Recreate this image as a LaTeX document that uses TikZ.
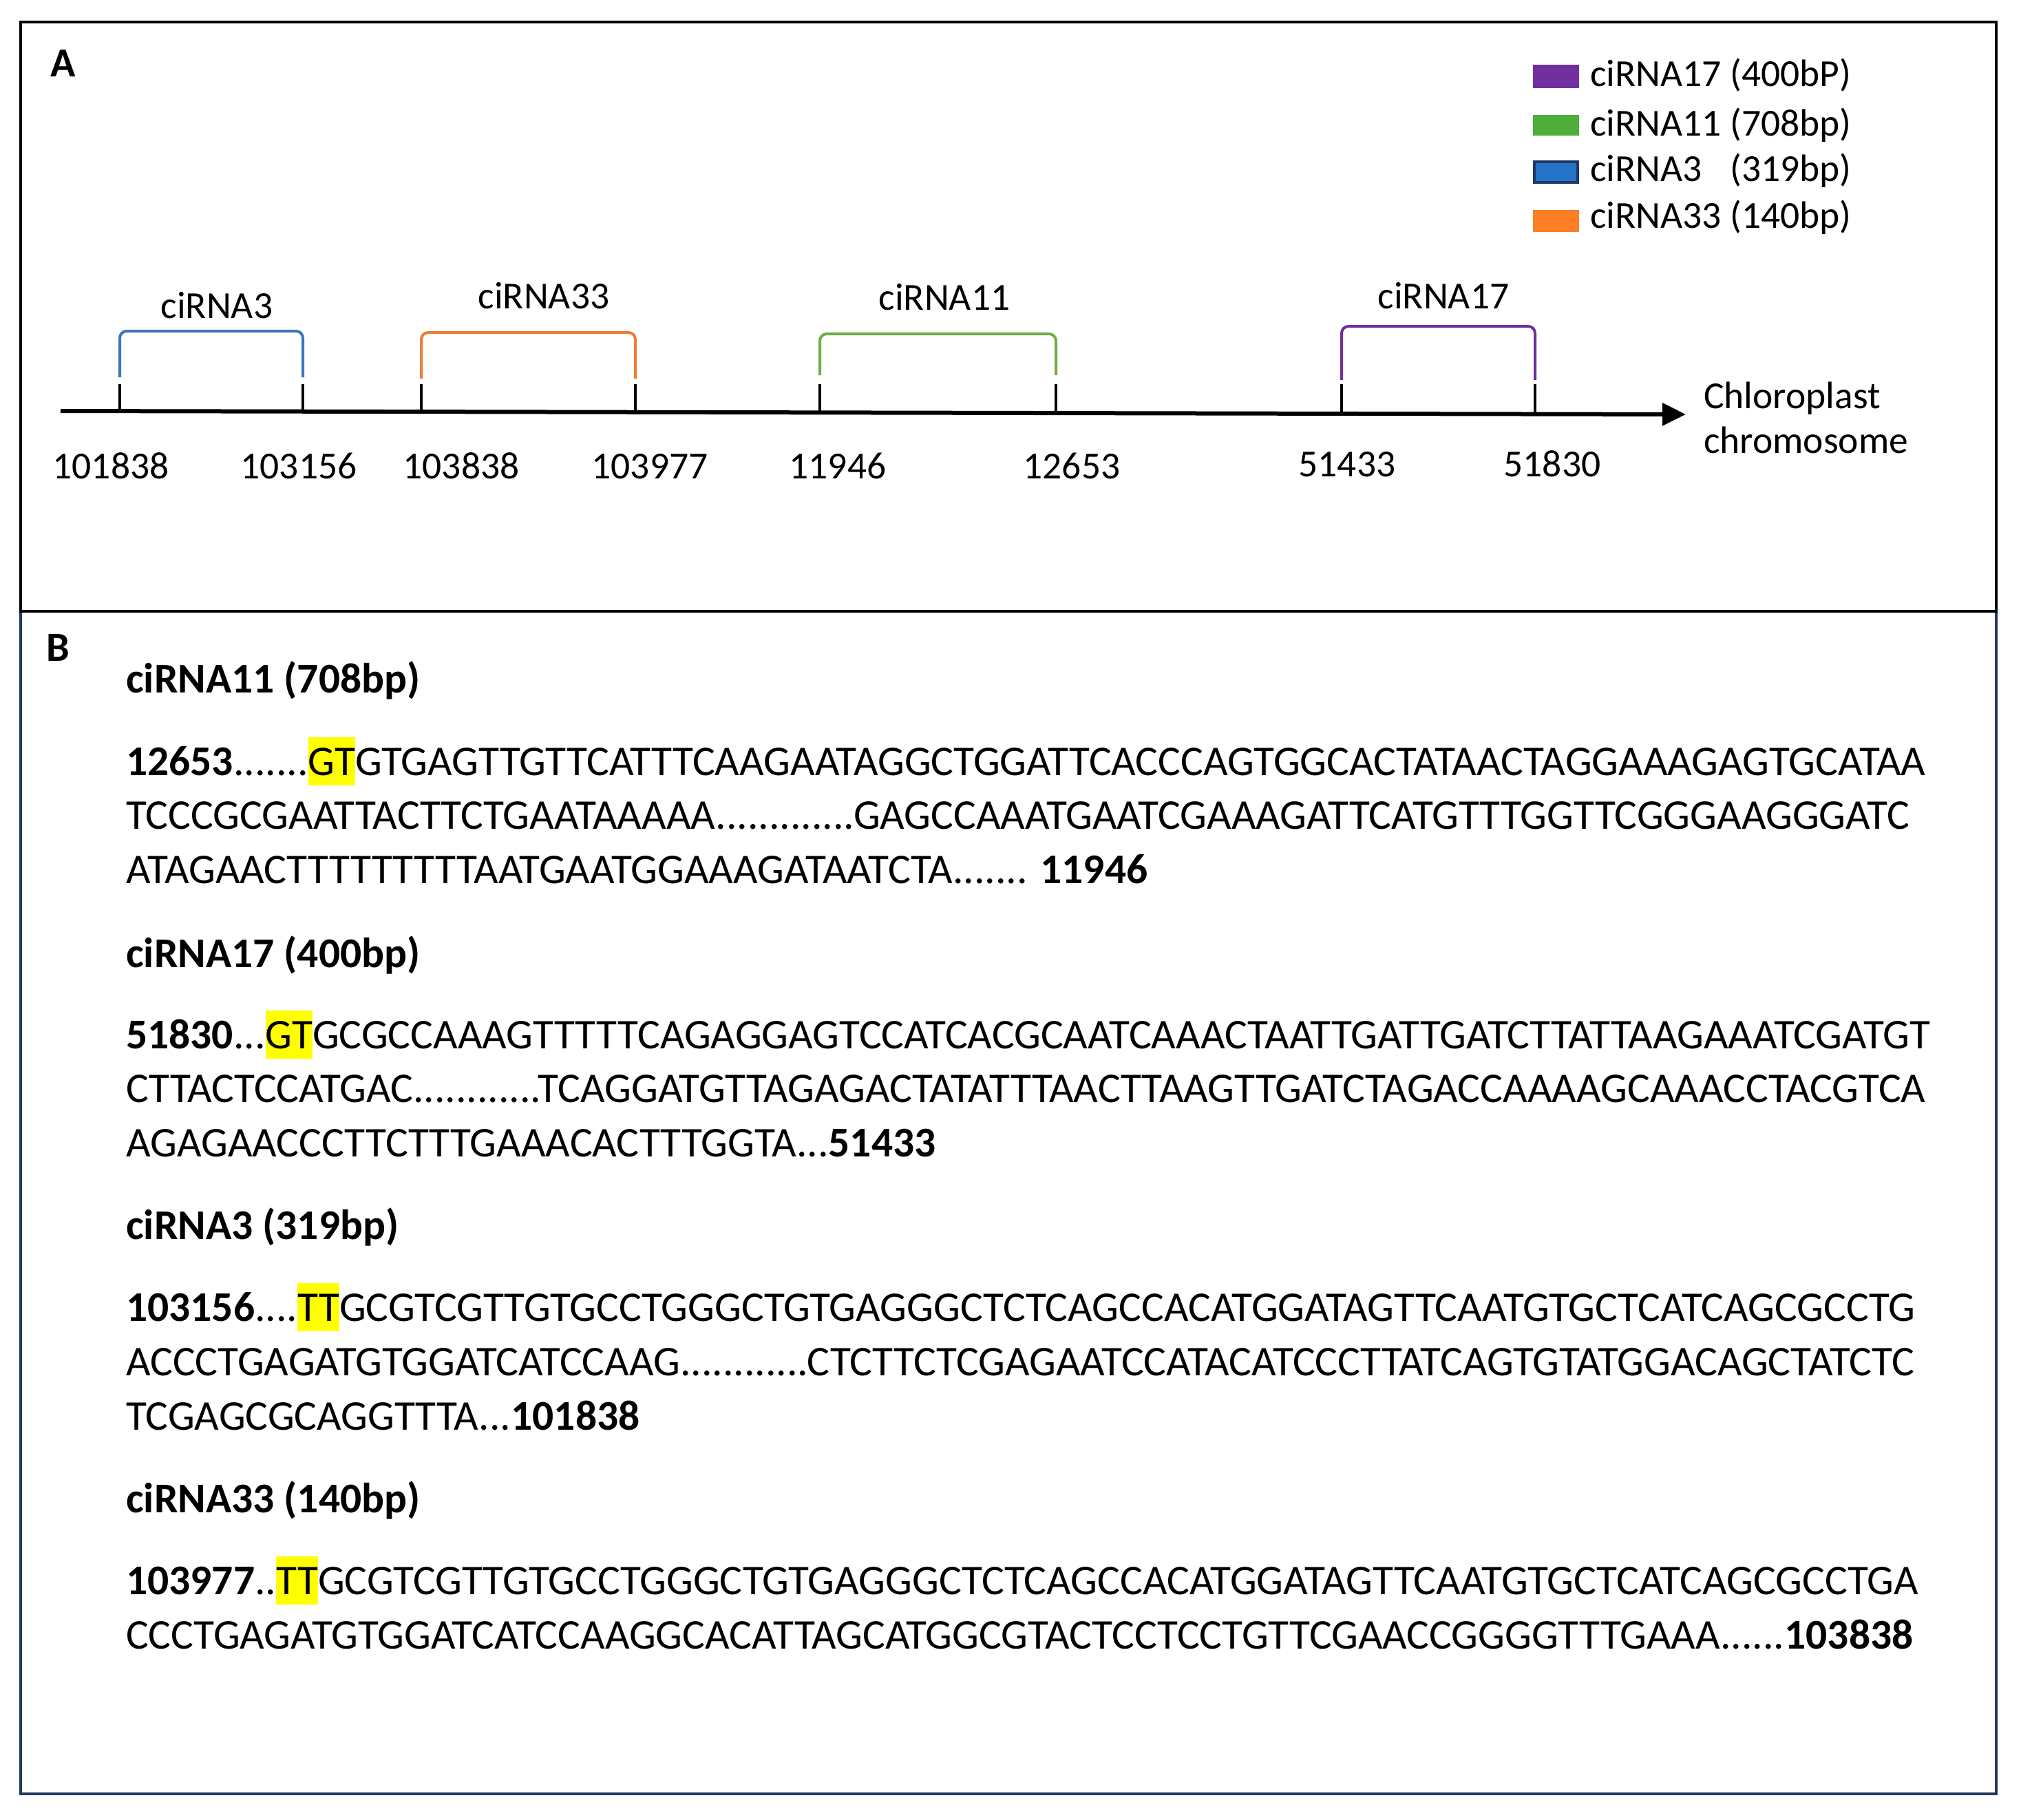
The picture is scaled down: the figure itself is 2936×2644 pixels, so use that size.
\documentclass[tikz,border=0pt]{standalone}
\usepackage{fontspec}
\setmainfont{Carlito}
\usetikzlibrary{arrows.meta}
\definecolor{cpurple}{HTML}{7030A0}
\definecolor{cgreen}{HTML}{70AD47}
\definecolor{cblue}{HTML}{3A76BD}
\definecolor{corange}{HTML}{ED7D31}
\definecolor{lorange}{HTML}{FF7F27}
\definecolor{lgreen}{HTML}{4DAF3A}
\definecolor{lblue}{HTML}{2573C8}
\definecolor{navy}{HTML}{1F3864}
\definecolor{hly}{HTML}{FFFF00}
\newcommand{\hlbox}[1]{{\setlength{\fboxsep}{0pt}\colorbox{hly}{\rule[-0.24em]{0pt}{1.14em}#1}}}
\begin{document}
\begin{tikzpicture}[x=1pt,y=-1pt,
  seq/.style={anchor=base west, inner sep=0pt, font=\fontsize{61.5}{72}\selectfont},
  head/.style={anchor=base west, inner sep=0pt, font=\fontsize{61.5}{72}\selectfont\bfseries},
  lab/.style={anchor=base, inner sep=0pt, font=\fontsize{55.5}{66}\selectfont},
  leg/.style={anchor=base west, inner sep=0pt, font=\fontsize{55.5}{66}\selectfont},
  panel/.style={anchor=base, inner sep=0pt, font=\fontsize{60}{72}\selectfont\bfseries},
  bracket/.style={line width=4pt, rounded corners=10pt},
  tick/.style={line width=4.5pt}]
\useasboundingbox (0,0) rectangle (2936,2644);
\fill[white] (0,0) rectangle (2936,2644);
% frames
\draw[navy, line width=4.5pt] (30,888) rectangle (2900,2606);
\draw[black, line width=4.5pt] (30,32) rectangle (2900,888);
\node[panel] (pA) at (92,112) {A};
\node[panel] (pB) at (84,960) {B};
% legend
\fill[cpurple] (2227,94) rectangle (2294,128);
\fill[lgreen] (2227,167) rectangle (2294,197);
\filldraw[fill=lblue, draw=navy, line width=4pt] (2229,235) rectangle (2292,265);
\fill[lorange] (2227,305) rectangle (2294,337);
\node[leg] (l17) at (2310,126) {ciRNA17 (400bP)};
\node[leg] (l11) at (2310,197) {ciRNA11 (708bp)};
\node[leg] (l3) at (2310,263) {ciRNA3\phantom{1} (319bp)};
\node[leg] (l33) at (2310,331) {ciRNA33 (140bp)};
% axis
\coordinate (ax0) at (88,597);
\coordinate (ax1) at (2449,602);
\draw[line width=6pt, -{Triangle[length=34pt,width=32pt]}] (ax0) -- (ax1);
\node[anchor=base west, inner sep=0pt, font=\fontsize{55.5}{66}\selectfont] (chl) at (2475,593) {Chloroplast};
\node[anchor=base west, inner sep=0pt, font=\fontsize{55.5}{66}\selectfont] (chr) at (2475,658) {chromosome};
% ticks
\foreach \x/\n in {174/a,440/b,612/c,923/d,1191/e,1534/f,1949/g,2230/h}{
  \coordinate (t\n) at (\x,599);
  \draw[tick] (t\n) -- ++(0,-41);
}
% brackets
\draw[bracket, cblue] (174,548) -- (174,481) -- (440,481) -- (440,548);
\draw[bracket, corange] (612,550) -- (612,483) -- (923,483) -- (923,550);
\draw[bracket, cgreen] (1191,545) -- (1191,485) -- (1534,485) -- (1534,545);
\draw[bracket, cpurple] (1949,552) -- (1949,474) -- (2230,474) -- (2230,552);
\node[lab] (b3) at (315,462) {ciRNA3};
\node[lab] (b33) at (790,448) {ciRNA33};
\node[lab] (b11) at (1372,450) {ciRNA11};
\node[lab] (b17) at (2097,448) {ciRNA17};
% numbers
\node[lab] (n1) at (161,695) {101838};
\node[lab] (n2) at (434,695) {103156};
\node[lab] (n3) at (670,695) {103838};
\node[lab] (n4) at (944,695) {103977};
\node[lab] (n5) at (1217,695) {11946};
\node[lab] (n6) at (1557,695) {12653};
\node[lab] (n7) at (1957,692) {51433};
\node[lab] (n8) at (2255,692) {51830};
% panel B
\node[head] (h11) at (183,1006) {ciRNA11 (708bp)};
\node[seq] (s11a) at (183,1126) {\textbf{12653}.......\hlbox{GT}GTGAGTTGTTCATTTCAAGAATAGGCTGGATTCACCCAGTGGCACTATAACTAGGAAAGAGTGCATAA};
\node[seq] (s11b) at (183,1204) {TCCCGCGAATTACTTCTGAATAAAAA.............GAGCCAAATGAATCGAAAGATTCATGTTTGGTTCGGGAAGGGATC};
\node[seq] (s11c) at (183,1283) {ATAGAACTTTTTTTTTAATGAATGGAAAGATAATCTA....... \textbf{11946}};
\node[head] (h17) at (183,1405) {ciRNA17 (400bp)};
\node[seq] (s17a) at (183,1523) {\textbf{51830}...\hlbox{GT}GCGCCAAAGTTTTTCAGAGGAGTCCATCACGCAATCAAACTAATTGATTGATCTTATTAAGAAATCGATGT};
\node[seq] (s17b) at (183,1601) {CTTACTCCATGAC............TCAGGATGTTAGAGACTATATTTAACTTAAGTTGATCTAGACCAAAAGCAAACCTACGTCA};
\node[seq] (s17c) at (183,1680) {AGAGAACCCTTCTTTGAAACACTTTGGTA...\textbf{51433}};
\node[head] (h3) at (183,1800) {ciRNA3 (319bp)};
\node[seq] (s3a) at (183,1919) {\textbf{103156}....\hlbox{TT}GCGTCGTTGTGCCTGGGCTGTGAGGGCTCTCAGCCACATGGATAGTTCAATGTGCTCATCAGCGCCTG};
\node[seq] (s3b) at (183,1998) {ACCCTGAGATGTGGATCATCCAAG............CTCTTCTCGAGAATCCATACATCCCTTATCAGTGTATGGACAGCTATCTC};
\node[seq] (s3c) at (183,2077) {TCGAGCGCAGGTTTA...\textbf{101838}};
\node[head] (h33) at (183,2197) {ciRNA33 (140bp)};
\node[seq] (s33a) at (183,2316) {\textbf{103977}..\hlbox{TT}GCGTCGTTGTGCCTGGGCTGTGAGGGCTCTCAGCCACATGGATAGTTCAATGTGCTCATCAGCGCCTGA};
\node[seq] (s33b) at (183,2395) {CCCTGAGATGTGGATCATCCAAGGCACATTAGCATGGCGTACTCCTCCTGTTCGAACCGGGGTTTGAAA......\textbf{103838}};
\end{tikzpicture}
\end{document}
